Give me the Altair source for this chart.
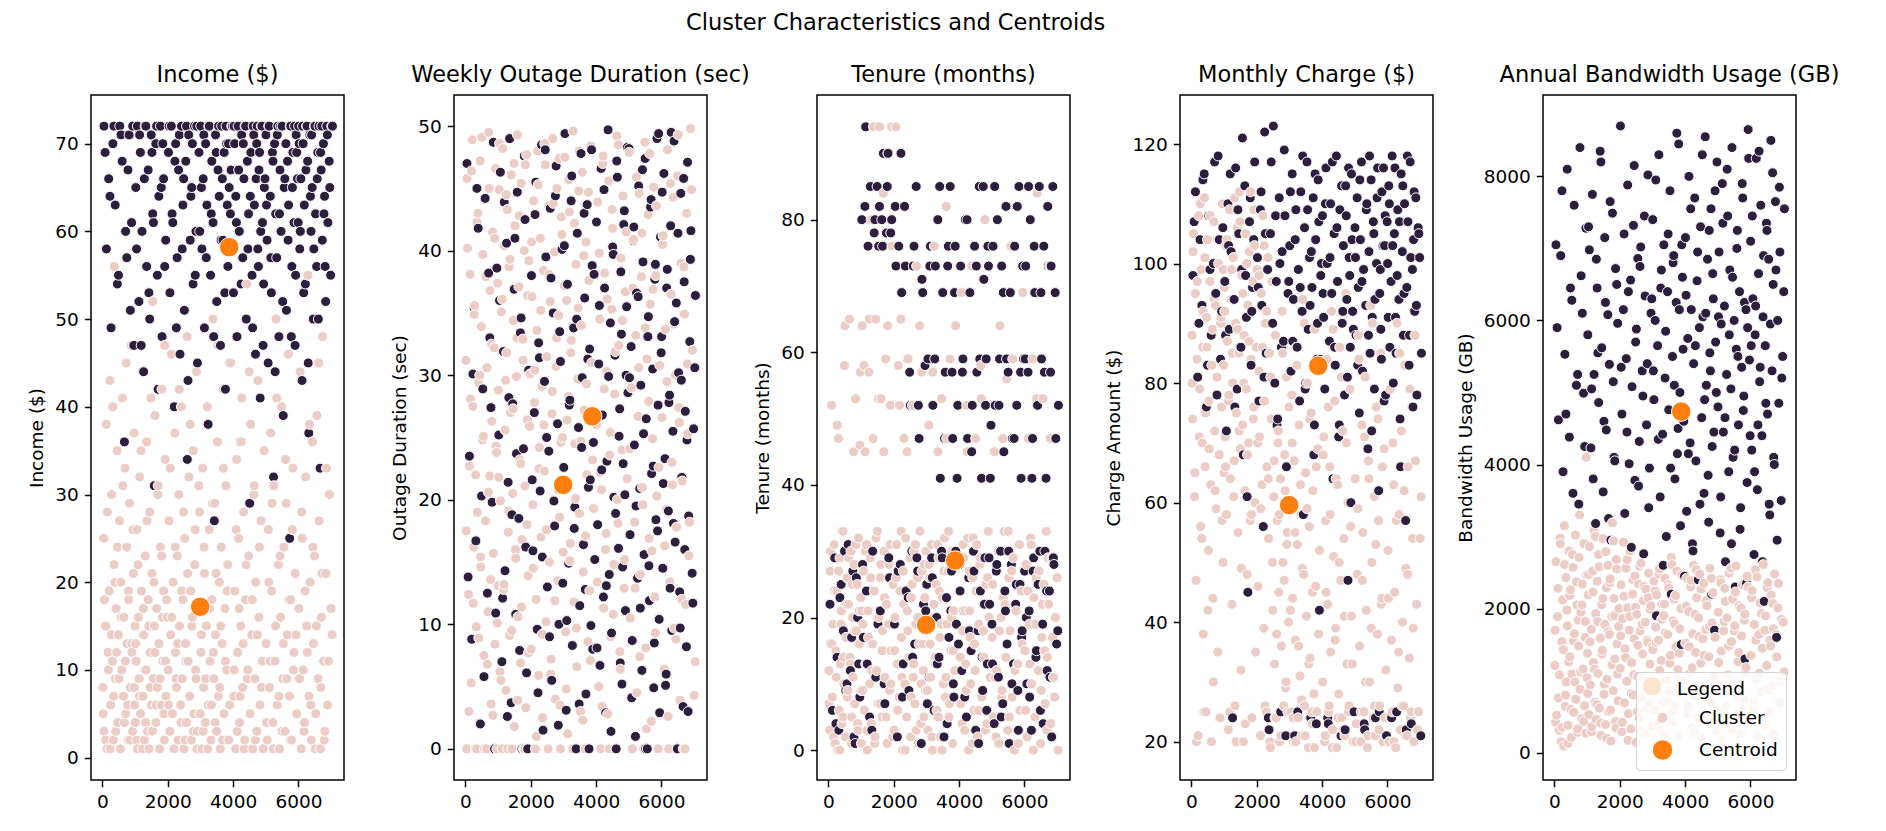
import altair as alt
import pandas as pd

# ---------------- data ----------------
# light cluster ("Cluster" in legend)
light_x = [12, 37, 48, 95, 118, 140, 171, 205, 226, 251, 280, 303, 330, 352, 361, 398, 415, 447, 470, 488, 519, 533, 566, 590, 611, 642, 655, 690, 712, 738, 751, 783, 806, 829, 852, 880, 903, 921, 948, 962, 985, 997,
           1008, 1031, 1055, 1072, 1098, 1124, 1139, 1166, 1190, 1213, 1240, 1262, 1281, 1309, 1334, 1352, 1376, 1401, 1425, 1447, 1468, 1495, 1517, 1540, 1563, 1589, 1610, 1636, 1658, 1681, 1705, 1727, 1752, 1774, 1798, 1821, 1846, 1870, 1893, 1917, 1944, 1978,
           2011, 2037, 2063, 2084, 2110, 2139, 2161, 2188, 2214, 2236, 2263, 2290, 2311, 2339, 2362, 2390, 2415, 2441, 2466, 2492, 2518, 2544, 2570, 2593, 2621, 2647, 2672, 2698, 2723, 2751, 2776, 2800, 2827, 2853, 2880, 2906, 2933, 2968,
           3014, 3042, 3069, 3097, 3126, 3150, 3181, 3209, 3240, 3266, 3295, 3322, 3350, 3381, 3409, 3437, 3463, 3492, 3521, 3549, 3578, 3606, 3634, 3663, 3690, 3719, 3748, 3777, 3805, 3836, 3868, 3921,
           4018, 4049, 4077, 4108, 4139, 4170, 4199, 4231, 4262, 4290, 4321, 4353, 4384, 4416, 4447, 4475, 4506, 4538, 4569, 4601, 4633, 4664, 4695, 4727, 4758, 4790, 4822, 4855, 4893, 4950,
           5012, 5045, 5078, 5110, 5146, 5180, 5214, 5247, 5283, 5316, 5350, 5385, 5418, 5452, 5487, 5520, 5556, 5590, 5624, 5657, 5690, 5725, 5760, 5793, 5828, 5862, 5900, 5948,
           6015, 6049, 6083, 6118, 6150, 6186, 6220, 6255, 6290, 6323, 6358, 6392, 6427, 6461, 6496, 6530, 6565, 6600, 6634, 6668, 6703, 6738, 6772, 6806, 6841, 6890, 6950, 7030,
           22, 63, 105, 152, 181, 239, 268, 312, 341, 380, 407, 436, 462, 503, 548, 577, 625, 668, 701, 725, 770, 797, 841, 893, 935, 973,
           1017, 1044, 1086, 1131, 1178, 1227, 1250, 1294, 1321, 1366, 1413, 1458, 1482, 1528, 1575, 1601, 1647, 1693, 1716, 1763, 1810, 1835, 1882, 1906, 1930, 1962,
           2025, 2074, 2122, 2175, 2226, 2251, 2302, 2350, 2401, 2428, 2479, 2530, 2556, 2607, 2660, 2685, 2736, 2788, 2839, 2866, 2893, 2920, 2950, 2990,
           3028, 3083, 3111, 3165, 3195, 3224, 3280, 3336, 3366, 3395, 3450, 3478, 3535, 3592, 3620, 3677, 3705, 3762, 3820, 3893,
           4033, 4093, 4124, 4185, 4214, 4246, 4306, 4337, 4400, 4431, 4490, 4522, 4585, 4648, 4680, 4742, 4806, 4870, 4920,
           5028, 5094, 5128, 5196, 5231, 5299, 5333, 5402, 5435, 5503, 5538, 5607, 5641, 5708, 5742, 5811, 5845, 5925,
           6032, 6100, 6167, 6203, 6272, 6340, 6375, 6444, 6512, 6548, 6617, 6686, 6720, 6789, 6858, 6920, 7000]
light_income = [8, 25, 3, 15, 38, 1, 12, 19, 43, 6, 30, 11, 2, 22, 56, 9, 17, 35, 4, 14, 27, 1, 20, 10, 41, 7, 16, 33, 5, 24, 13, 2, 18, 29, 8, 47, 12, 3, 21, 37, 6, 15,
                4, 11, 26, 1, 16, 9, 32, 5, 19, 44, 7, 14, 2, 23, 10, 36, 3, 18, 1, 28, 12, 6, 21, 52, 9, 15, 39, 4, 17, 8, 31, 13, 1, 24, 6, 42, 11, 19, 2, 34, 7, 16,
                10, 27, 3, 14, 46, 5, 20, 1, 37, 12, 8, 23, 2, 30, 15, 6, 40, 9, 18, 1, 25, 13, 4, 48, 11, 32, 7, 19, 2, 16, 35, 5, 22, 10, 44, 3, 17, 28,
                12, 1, 33, 8, 21, 4, 15, 40, 6, 26, 11, 2, 18, 50, 9, 29, 14, 3, 36, 7, 20, 1, 24, 13, 42, 5, 17, 31, 10, 22, 2, 45,
                7, 19, 1, 34, 12, 25, 4, 15, 41, 8, 28, 2, 18, 54, 10, 23, 5, 38, 14, 1, 30, 9, 20, 3, 43, 16, 6, 27, 11, 35,
                13, 2, 26, 8, 37, 19, 4, 31, 11, 50, 6, 22, 1, 16, 40, 9, 24, 3, 29, 14, 46, 7, 18, 2, 33, 12, 21, 5,
                17, 44, 1, 25, 10, 4, 32, 15, 55, 7, 20, 2, 36, 13, 23, 5, 39, 9, 27, 1, 16, 48, 11, 3, 21, 6, 30, 14,
                5, 18, 2, 28, 10, 1, 14, 40, 7, 20, 3, 12, 24, 9, 1, 16, 31, 4, 11, 45, 6, 19, 2, 13, 26, 8,
                13, 2, 22, 7, 35, 1, 17, 10, 4, 27, 15, 8, 41, 3, 20, 12, 6, 30, 1, 9, 23, 16, 5, 47, 11, 18,
                6, 33, 16, 1, 24, 9, 13, 42, 4, 19, 28, 2, 11, 21, 7, 38, 15, 3, 26, 9, 1, 17, 31, 5,
                14, 3, 24, 9, 38, 1, 17, 6, 29, 12, 4, 21, 47, 8, 15, 2, 33, 11, 19, 6,
                10, 26, 3, 17, 7, 36, 13, 1, 22, 9, 44, 5, 18, 31, 2, 14, 24, 8, 1,
                4, 20, 11, 29, 1, 15, 41, 7, 23, 3, 13, 34, 9, 18, 2, 26, 10, 14,
                9, 28, 3, 19, 12, 38, 6, 24, 1, 15, 45, 8, 21, 2, 33, 11, 17]
light_outage = [31.2, 0, 45.8, 12.4, 22.7, 38.1, 5.3, 48.9, 27.5, 16.2, 35.6, 0, 9.8, 42.3, 19.0, 29.4, 2.1, 47.2, 14.6, 33.9, 24.8, 39.7, 7.5, 44.1, 18.3, 0, 30.6, 11.0, 49.5, 21.9, 36.8, 3.6, 26.3, 41.5, 15.7, 32.2, 8.4, 46.6, 23.8, 0, 37.4, 13.1,
                28.8, 44.9, 6.2, 19.9, 35.1, 0, 48.2, 12.8, 40.4, 25.6, 4.7, 31.8, 43.3, 17.4, 38.7, 9.1, 27.0, 46.1, 0, 20.5, 34.4, 1.8, 42.0, 15.3, 29.9, 49.3, 10.6, 37.1, 23.2, 6.9, 45.4, 16.8, 32.9, 0, 40.0, 21.1, 3.3, 47.7, 26.4, 13.9, 39.2, 30.1,
                8.0, 36.3, 19.6, 44.0, 27.8, 0, 12.0, 33.6, 48.0, 5.9, 24.2, 41.0, 17.0, 29.1, 2.5, 38.4, 22.3, 46.9, 10.2, 31.5, 0, 43.6, 15.0, 35.9, 7.2, 26.9, 49.0, 20.0, 39.9, 4.0, 30.7, 45.0, 13.5, 34.8, 18.6, 0, 42.7, 25.0,
                21.4, 47.5, 9.4, 36.0, 1.2, 28.3, 43.1, 16.5, 32.8, 0, 49.6, 11.8, 24.5, 38.9, 6.6, 29.7, 44.8, 18.9, 3.0, 34.0, 46.3, 14.2, 27.2, 0, 40.7, 22.0, 8.6, 37.6, 12.7, 48.4, 31.0, 19.3,
                26.0, 43.9, 5.0, 34.5, 0, 20.8, 47.0, 11.3, 38.2, 16.0, 30.3, 2.8, 45.6, 23.6, 9.0, 35.3, 41.8, 14.8, 28.5, 0, 49.2, 18.1, 32.4, 7.8, 39.4, 24.0, 44.4, 12.9, 36.7, 21.7,
                47.9, 10.5, 29.0, 0, 40.9, 18.2, 33.2, 4.5, 26.7, 44.6, 14.0, 37.9, 21.0, 0, 48.7, 8.1, 31.3, 42.9, 16.9, 35.7, 2.2, 24.9, 45.1, 12.2, 38.0, 20.3, 0, 30.8,
                26.6, 41.2, 6.4, 33.7, 19.2, 48.1, 0, 13.4, 36.5, 23.0, 44.3, 9.7, 30.0, 17.8, 46.0, 27.4, 3.9, 39.0, 21.5, 0, 34.9, 11.6, 43.0, 25.3, 15.5, 49.8, 32.0, 7.0,
                17.5, 40.2, 3.0, 28.1, 46.4, 11.7, 34.9, 22.0, 0, 43.0, 8.9, 30.0, 15.4, 49.1, 25.1, 0, 37.9, 6.8, 20.6, 45.0, 13.6, 32.5, 2.7, 41.0, 24.3, 10.1,
                21.8, 48.6, 5.5, 36.1, 13.2, 29.6, 44.5, 0, 19.1, 39.3, 9.5, 27.3, 47.0, 16.0, 33.0, 3.9, 42.8, 22.9, 11.4, 31.2, 0, 46.9, 18.0, 36.4, 7.7, 25.9,
                40.7, 14.5, 30.4, 1.0, 45.3, 22.5, 35.2, 9.2, 26.0, 48.6, 17.6, 0, 38.1, 6.0, 28.7, 43.8, 11.9, 33.0, 20.8, 47.4, 3.5, 24.6, 41.3, 15.8,
                37.2, 4.8, 26.4, 45.7, 15.1, 31.8, 0, 42.2, 20.1, 9.7, 35.4, 48.0, 24.7, 2.3, 39.6, 17.1, 29.3, 44.7, 7.1, 23.2,
                13.4, 39.8, 22.2, 3.4, 47.6, 28.9, 17.3, 36.1, 0, 25.4, 43.3, 10.8, 31.9, 20.0, 48.5, 6.4, 34.4, 15.2, 41.5,
                24.1, 0, 37.0, 12.9, 45.9, 30.6, 7.4, 41.4, 19.6, 33.8, 1.6, 27.9, 47.8, 15.9, 36.9, 9.3, 43.6, 22.6,
                40.5, 16.3, 29.5, 2.6, 45.4, 21.2, 34.1, 8.8, 49.3, 26.2, 12.0, 38.7, 0, 30.9, 18.2, 44.9, 4.3]
light_tenure = [12, 3, 27, 52, 8, 19, 31, 1, 15, 24, 0, 47, 6, 29, 13, 21, 4, 33, 10, 58, 2, 17, 26, 9, 22, 65, 14, 30, 5, 20, 11, 28, 7, 53, 18, 25, 3, 32, 16, 46, 23, 9,
                1, 64, 19, 27, 6, 45, 13, 31, 0, 21, 57, 10, 29, 4, 80, 16, 94, 24, 2, 65, 12, 33, 7, 20, 94, 26, 53, 5, 18, 84, 30, 11, 59, 22, 1, 90, 28, 9, 52, 15, 76, 25,
                3, 20, 94, 31, 13, 58, 8, 24, 65, 17, 0, 27, 47, 10, 32, 5, 21, 59, 14, 29, 2, 23, 52, 11, 30, 7, 19, 73, 26, 1, 16, 33, 4, 57, 22, 12, 28, 9,
                18, 3, 49, 26, 11, 31, 0, 20, 76, 14, 25, 6, 45, 29, 17, 2, 53, 23, 10, 32, 8, 82, 19, 27, 5, 59, 15, 30, 1, 21, 12, 41,
                24, 7, 69, 18, 29, 3, 13, 52, 32, 0, 21, 10, 73, 26, 6, 16, 47, 31, 2, 19, 28, 58, 8, 22, 14, 80, 25, 4, 33, 11,
                17, 5, 45, 27, 12, 30, 1, 64, 20, 9, 23, 33, 14, 56, 3, 26, 18, 76, 8, 29, 0, 21, 52, 13, 31, 6, 24, 69,
                15, 28, 2, 47, 19, 32, 10, 59, 23, 5, 26, 84, 12, 30, 1, 17, 53, 25, 7, 33, 14, 22, 73, 4, 29, 11, 20, 0,
                7, 30, 16, 2, 24, 11, 49, 27, 0, 19, 33, 5, 14, 64, 22, 8, 29, 13, 1, 25, 45, 18, 31, 4, 21, 57,
                21, 9, 58, 30, 3, 17, 65, 26, 12, 47, 1, 32, 20, 53, 7, 28, 15, 45, 23, 5, 64, 19, 31, 10, 94, 2,
                15, 26, 6, 52, 33, 11, 22, 0, 45, 18, 29, 8, 25, 13, 31, 3, 20, 64, 10, 27, 16, 5, 23, 30,
                9, 28, 16, 2, 57, 22, 13, 31, 5, 24, 19, 0, 27, 11, 47, 33, 7, 20, 15, 64,
                14, 4, 31, 21, 9, 45, 27, 17, 1, 32, 12, 24, 6, 29, 53, 18, 3, 26, 20,
                25, 11, 2, 30, 18, 8, 47, 22, 14, 33, 5, 27, 59, 12, 21, 1, 31, 16,
                6, 24, 13, 31, 0, 19, 53, 27, 9, 22, 15, 3, 29, 47, 17, 8, 26]
light_charge = [88, 74, 102, 61, 95, 47, 84, 21, 108, 79, 56, 99, 70, 92, 38, 111, 66, 25, 86, 104, 52, 77, 97, 63, 20, 89, 44, 107, 72, 93, 59, 81, 35, 100, 68, 24, 91, 76, 110, 50, 83, 65,
                96, 71, 103, 58, 87, 22, 78, 109, 64, 94, 43, 80, 101, 67, 26, 90, 75, 106, 55, 85, 112, 69, 32, 98, 73, 20, 88, 62, 105, 79, 48, 93, 70, 102, 57, 84, 24, 96, 74, 109, 60, 86,
                99, 46, 82, 71, 21, 95, 63, 108, 39, 77, 90, 25, 66, 101, 54, 85, 19, 74, 97, 42, 61, 33, 88, 24, 57, 70, 45, 20, 64, 36, 92, 50, 26, 68, 29, 81, 55, 40,
                60, 25, 78, 44, 20, 67, 37, 86, 53, 24, 73, 31, 58, 21, 94, 48, 26, 65, 41, 80, 19, 56, 34, 75, 23, 62, 28, 89, 46, 25, 69, 52,
                30, 71, 20, 57, 84, 43, 25, 66, 35, 92, 22, 51, 77, 39, 19, 63, 28, 86, 47, 24, 72, 54, 21, 95, 33, 60, 26, 79, 41, 20,
                64, 23, 48, 88, 36, 20, 73, 55, 25, 81, 42, 19, 67, 30, 93, 50, 24, 61, 21, 76, 38, 57, 26, 85, 44, 20, 69, 32,
                52, 20, 79, 37, 25, 63, 45, 19, 90, 29, 58, 22, 72, 40, 26, 83, 49, 21, 66, 34, 24, 76, 54, 20, 88, 43, 25, 61,
                80, 105, 65, 20, 97, 71, 110, 54, 86, 25, 101, 75, 91, 42, 69, 108, 83, 30, 94, 62, 78, 104, 24, 90, 57, 99,
                92, 66, 104, 77, 25, 99, 85, 61, 111, 20, 89, 72, 107, 49, 95, 80, 23, 100, 68, 87, 112, 58, 97, 76, 103, 35,
                70, 98, 59, 86, 103, 26, 92, 64, 20, 81, 50, 67, 24, 38, 72, 58, 21, 85, 47, 62, 30, 53, 25, 76,
                42, 70, 24, 55, 20, 83, 36, 63, 27, 49, 90, 21, 59, 33, 74, 25, 45, 19, 66, 38,
                68, 21, 45, 76, 26, 58, 19, 89, 37, 64, 24, 50, 81, 22, 41, 70, 25, 56, 33,
                20, 59, 84, 25, 47, 71, 30, 21, 64, 39, 90, 26, 53, 74, 22, 43, 66, 24,
                44, 24, 70, 20, 57, 35, 85, 26, 62, 21, 48, 79, 25, 39, 67, 22, 54]
light_bandwidth = [1210, 420, 2650, 1890, 760, 310, 2980, 150, 1540, 2120, 90, 3150, 640, 2430, 980, 1760, 380, 2800, 1330, 2260, 210, 1090, 2570, 560, 1650, 3020, 740, 2050, 330, 1480, 2710, 880, 1950, 470, 2340, 1160, 2900, 650, 1820, 270, 2470, 1040,
                   1380, 2190, 530, 2860, 940, 1710, 360, 2520, 1250, 3080, 700, 1930, 460, 2380, 1100, 2750, 620, 1590, 240, 2050, 1420, 2970, 810, 1780, 390, 2290, 1020, 2600, 570, 1640, 2410, 160, 1890, 3190, 860, 2140, 1300, 430, 2680, 1510, 720, 2000,
                   1170, 2330, 290, 1860, 2920, 690, 1440, 2560, 990, 2010, 540, 1700, 2800, 330, 1250, 2200, 800, 1580, 2450, 140, 1920, 1060, 2340, 480, 1690, 2630, 760, 1370, 2110, 260, 1810, 2270, 620, 1530, 2490, 930, 1990, 370,
                   1430, 2380, 580, 1740, 2190, 880, 1560, 2550, 310, 1280, 2060, 700, 1900, 2420, 1010, 160, 1640, 2290, 850, 1350, 2710, 430, 1830, 2130, 650, 1470, 2520, 1150, 230, 1720, 2000, 990,
                   1520, 2420, 540, 1960, 1100, 2300, 350, 1650, 2600, 790, 1390, 2150, 480, 1870, 2480, 1240, 200, 1580, 2350, 920, 1710, 2040, 410, 1330, 2560, 700, 1800, 2220, 1060, 300,
                   1950, 850, 2400, 1410, 180, 1690, 2280, 640, 1870, 1080, 2490, 390, 1540, 2130, 960, 1760, 2590, 530, 1260, 2040, 270, 1620, 2330, 740, 1920, 1180, 2450, 460,
                   1350, 2250, 610, 1780, 2540, 1030, 220, 1640, 2080, 840, 1450, 2610, 380, 1900, 1210, 2360, 560, 1560, 2190, 930, 1720, 2480, 150, 1330, 2010, 690, 1850, 1120,
                   1700, 520, 2280, 1080, 2900, 350, 1430, 2610, 800, 1980, 130, 1260, 2180, 600, 2750, 1550, 980, 2370, 280, 1840, 3300, 1120, 2050, 430, 1600, 4100,
                   820, 2470, 1540, 290, 2230, 1160, 3000, 670, 1820, 2580, 410, 1370, 2140, 950, 2790, 200, 1680, 2360, 590, 1220, 2940, 1900, 340, 2550, 1090, 1750,
                   1620, 420, 2170, 1320, 2680, 170, 1890, 820, 2400, 1080, 2020, 560, 1490, 2590, 300, 1780, 2310, 900, 1560, 2150, 680, 1230, 2040, 1470,
                   890, 2240, 1530, 400, 2480, 1140, 1850, 260, 2060, 1660, 720, 2330, 1240, 2610, 560, 1790, 2180, 1020, 1380, 2470,
                   2030, 640, 1470, 2390, 1180, 280, 1920, 2540, 860, 1610, 2270, 470, 1350, 2110, 730, 1750, 2420, 1010, 1600,
                   1250, 2360, 560, 1820, 2100, 920, 1480, 2560, 310, 1690, 2230, 780, 1390, 2010, 600, 1840, 1120, 2300,
                   2150, 720, 1560, 2440, 1100, 1930, 440, 1700, 2290, 870, 1480, 2070, 250, 1640, 2350, 990, 1810]

# dark cluster
dark_x = [45, 120, 190, 262, 318, 389, 455, 530, 602, 671, 744, 815, 890, 960,
          1020, 1068, 1115, 1160, 1210, 1258, 1305, 1352, 1398, 1446, 1490, 1538, 1585, 1633, 1680, 1726, 1775, 1823, 1870, 1935,
          2020, 2065, 2108, 2152, 2197, 2240, 2285, 2330, 2374, 2418, 2462, 2507, 2551, 2596, 2640, 2685, 2730, 2774, 2818, 2862, 2907, 2955,
          3008, 3045, 3083, 3121, 3158, 3196, 3234, 3272, 3310, 3347, 3385, 3423, 3461, 3498, 3536, 3574, 3612, 3650, 3688, 3726, 3764, 3802, 3840, 3878, 3916, 3958,
          4010, 4046, 4081, 4117, 4152, 4188, 4223, 4259, 4294, 4330, 4365, 4401, 4436, 4472, 4507, 4543, 4578, 4614, 4649, 4685, 4720, 4756, 4791, 4827, 4862, 4898, 4933, 4975,
          5005, 5038, 5071, 5104, 5137, 5170, 5203, 5236, 5269, 5302, 5335, 5368, 5401, 5434, 5467, 5500, 5533, 5566, 5599, 5632, 5665, 5698, 5731, 5764, 5797, 5830, 5863, 5896, 5929, 5970,
          6005, 6040, 6074, 6109, 6143, 6178, 6212, 6247, 6281, 6316, 6350, 6385, 6419, 6454, 6488, 6523, 6557, 6592, 6626, 6661, 6695, 6730, 6764, 6799, 6833, 6868, 6902, 6940, 6985, 7040,
          80, 228, 350, 490, 566, 708, 780, 852, 925,
          1043, 1137, 1185, 1282, 1328, 1421, 1514, 1560, 1657, 1703, 1799, 1846, 1905,
          2042, 2130, 2219, 2262, 2352, 2440, 2485, 2574, 2618, 2707, 2752, 2840, 2885, 2978,
          3027, 3102, 3177, 3253, 3329, 3404, 3479, 3555, 3631, 3669, 3745, 3783, 3821, 3859, 3897, 3937, 3980,
          4028, 4099, 4170, 4241, 4312, 4383, 4454, 4525, 4596, 4632, 4703, 4738, 4774, 4809, 4845, 4880, 4916, 4955,
          5021, 5088, 5154, 5220, 5286, 5352, 5418, 5451, 5517, 5583, 5616, 5682, 5748, 5781, 5814, 5880, 5913, 5946, 5990,
          6022, 6057, 6126, 6160, 6229, 6264, 6298, 6367, 6402, 6471, 6505, 6574, 6609, 6678, 6713, 6781, 6816, 6885, 6960, 7020]
dark_income = [72, 58, 66, 49, 70, 63, 54, 72, 68, 36, 57, 71, 61, 47,
               65, 72, 52, 69, 60, 44, 72, 56, 67, 50, 71, 62, 31, 70, 55, 64, 72, 48, 66, 59,
               69, 53, 72, 61, 40, 70, 57, 67, 46, 72, 63, 51, 68, 34, 71, 59, 65, 54, 72, 60, 45, 69,
               72, 58, 66, 49, 70, 63, 38, 72, 55, 68, 61, 27, 71, 52, 67, 64, 47, 72, 59, 69, 42, 70, 56, 65, 62, 72,
               53, 70, 64, 48, 72, 60, 36, 71, 57, 66, 72, 50, 68, 62, 29, 69, 55, 72, 63, 46, 70, 58, 67, 41, 72, 61, 54, 66,
               71, 59, 45, 72, 64, 53, 69, 32, 70, 62, 57, 72, 48, 67, 60, 72, 39, 65, 70, 51, 68, 63, 25, 72, 56, 69, 61, 47, 71, 66,
               72, 58, 66, 43, 70, 63, 54, 72, 68, 37, 71, 60, 65, 50, 72, 62, 56, 69, 72, 33, 67, 59, 70, 64, 52, 72, 61, 68, 55, 72,
               69, 64, 72, 55, 71, 60, 67, 51, 72,
               58, 71, 47, 66, 72, 53, 69, 61, 72, 42, 65, 70, 56,
               72, 62, 68, 49, 71, 58, 66, 72, 43, 64, 70, 55, 72, 60,
               65, 71, 57, 72, 62, 48, 69, 72, 59, 66, 53, 72, 63, 70, 45, 67, 72,
               72, 61, 67, 54, 70, 72, 58, 64, 49, 71, 66, 72, 56, 69, 60, 72, 47, 65,
               63, 72, 57, 68, 44, 71, 62, 72, 52, 66, 70, 59, 72, 48, 65, 72, 55, 69, 61,
               70, 60, 72, 53, 67, 72, 45, 64, 71, 58, 72, 66, 50, 69, 72, 62, 56, 71, 65, 72]
dark_outage = [47.0, 23.5, 8.8, 35.4, 16.7, 41.8, 2.0, 28.9, 44.2, 12.5, 33.0, 19.8, 0, 38.6,
               25.2, 46.3, 7.0, 31.9, 14.3, 40.6, 21.4, 49.0, 3.7, 27.7, 36.9, 10.8, 44.7, 18.5, 33.4, 0, 24.1, 42.5, 6.1, 30.4,
               38.0, 15.9, 27.0, 45.5, 9.6, 32.6, 20.7, 48.5, 1.5, 29.5, 39.5, 13.0, 23.9, 43.4, 5.5, 35.0, 17.9, 46.8, 26.1, 10.0, 31.1, 40.1,
               22.6, 49.4, 3.1, 37.3, 14.9, 28.0, 44.0, 8.3, 33.8, 19.4, 0, 41.4, 25.8, 11.5, 47.8, 29.8, 16.4, 36.2, 4.4, 43.7, 21.0, 32.1, 9.9, 38.8, 24.6, 15.2,
               42.3, 18.0, 30.9, 6.7, 46.6, 26.8, 12.2, 37.0, 2.9, 23.1, 49.7, 14.0, 34.2, 9.3, 40.3, 20.2, 31.6, 0, 45.9, 16.1, 27.3, 38.3, 5.2, 22.9, 43.2, 11.1, 35.5, 28.6,
               48.2, 17.2, 32.3, 8.7, 40.8, 24.4, 1.0, 36.6, 13.7, 45.2, 20.9, 29.2, 6.3, 39.1, 15.6, 47.4, 26.5, 0, 34.7, 11.9, 43.5, 22.1, 30.5, 4.9, 37.7, 18.4, 49.0, 27.6, 10.4, 41.1,
               33.1, 14.5, 46.2, 23.3, 6.0, 38.5, 19.1, 28.4, 42.0, 9.5, 25.5, 48.8, 16.6, 35.8, 0, 30.2, 12.6, 44.6, 21.8, 3.4, 37.5, 27.1, 8.2, 47.1, 18.7, 32.7, 41.6, 14.1, 25.7, 36.4,
               13.8, 30.1, 45.0, 20.3, 5.8, 38.2, 27.4, 48.7, 10.9,
               36.0, 12.1, 43.9, 2.6, 28.2, 18.8, 41.0, 23.7, 7.9, 34.6, 47.6, 16.2, 0,
               21.6, 42.9, 4.5, 31.4, 15.4, 48.1, 25.0, 9.0, 37.8, 19.9, 44.4, 1.9, 33.5, 13.3,
               40.4, 10.3, 27.6, 46.0, 17.7, 34.5, 3.6, 24.2, 43.0, 12.8, 31.3, 0, 21.6, 48.1, 8.0, 38.1, 26.3,
               8.1, 35.6, 22.4, 44.9, 13.1, 29.9, 1.4, 39.7, 18.9, 47.2, 25.1, 6.9, 33.3, 14.6, 42.1, 20.4, 30.0, 48.3,
               29.8, 4.1, 41.9, 19.5, 36.3, 11.3, 46.5, 25.3, 0, 33.1, 14.7, 44.1, 22.7, 8.5, 38.9, 17.5, 49.4, 2.9, 31.8,
               44.7, 21.3, 5.1, 37.0, 27.8, 12.9, 49.5, 18.1, 34.3, 0, 41.4, 9.7, 29.6, 45.8, 16.0, 24.8, 3.0, 39.3, 11.7, 30.6]
dark_tenure = [22, 6, 29, 14, 3, 25, 18, 9, 31, 12, 27, 1, 20, 8,
               80, 17, 82, 24, 76, 5, 80, 30, 78, 11, 85, 76, 21, 80, 90, 7, 78, 90, 26, 80,
               19, 73, 2, 76, 28, 69, 13, 82, 24, 59, 9, 52, 30, 73, 16, 85, 27, 47, 4, 71, 22, 58,
               25, 59, 11, 76, 29, 52, 6, 73, 20, 80, 14, 41, 30, 69, 2, 57, 23, 73, 17, 85, 27, 47, 8, 76, 19, 52,
               28, 73, 12, 59, 21, 80, 5, 47, 26, 69, 15, 52, 30, 76, 3, 57, 18, 85, 24, 41, 9, 71, 29, 59, 13, 73, 22, 49,
               19, 76, 4, 52, 27, 80, 11, 59, 30, 73, 7, 45, 24, 82, 16, 57, 1, 69, 28, 47, 13, 76, 22, 52, 9, 85, 25, 41, 18, 59,
               27, 73, 10, 57, 21, 80, 3, 47, 29, 69, 14, 52, 25, 85, 6, 59, 19, 76, 30, 41, 12, 73, 24, 57, 2, 85, 28, 69, 16, 52,
               16, 4, 23, 30, 10, 17, 2, 26, 13,
               28, 94, 13, 85, 3, 80, 19, 82, 76, 10, 85, 29, 78,
               82, 27, 90, 8, 73, 23, 57, 14, 76, 29, 52, 1, 69, 21,
               7, 73, 26, 59, 13, 85, 29, 47, 4, 76, 21, 57, 10, 69, 30, 41, 16,
               24, 57, 8, 80, 18, 45, 27, 73, 1, 59, 14, 85, 22, 52, 6, 76, 29, 41,
               13, 85, 28, 52, 5, 69, 21, 59, 30, 76, 10, 47, 25, 82, 3, 57, 17, 73, 27,
               59, 20, 85, 8, 41, 27, 76, 15, 52, 30, 69, 4, 57, 24, 82, 11, 73, 29, 47, 18]
dark_charge = [98, 112, 81, 104, 93, 115, 76, 108, 88, 100, 95, 118, 84, 106,
               97, 72, 110, 89, 102, 24, 94, 116, 79, 105, 86, 99, 68, 113, 91, 45, 107, 83, 96, 117,
               101, 77, 109, 93, 56, 122, 85, 99, 22, 105, 90, 123, 80, 97, 74, 111, 25, 102, 87, 108, 66, 95,
               103, 82, 115, 94, 21, 109, 86, 99, 77, 112, 92, 58, 106, 80, 117, 89, 101, 24, 96, 111, 73, 104, 84, 114, 42, 98,
               108, 91, 79, 116, 100, 23, 87, 110, 95, 64, 105, 83, 118, 97, 71, 109, 21, 90, 103, 78, 113, 94, 47, 101, 86, 115, 92, 25,
               106, 88, 111, 96, 75, 104, 117, 82, 99, 22, 93, 110, 69, 102, 85, 114, 91, 107, 79, 24, 100, 116, 62, 95, 89, 112, 103, 77, 108, 21,
               100, 113, 86, 97, 118, 80, 105, 91, 25, 109, 94, 74, 115, 102, 88, 110, 57, 96, 107, 83, 117, 23, 99, 104, 92, 111, 78, 106, 101, 85,
               107, 90, 114, 83, 99, 117, 78, 104, 92,
               88, 103, 115, 94, 76, 109, 86, 121, 98, 61, 111, 92, 104,
               96, 112, 81, 105, 24, 117, 90, 108, 73, 100, 86, 119, 21, 97,
               112, 87, 104, 25, 96, 118, 79, 109, 93, 102, 68, 115, 23, 90, 107, 84, 100,
               95, 110, 24, 101, 117, 86, 106, 73, 113, 92, 22, 108, 81, 116, 98, 60, 104, 89,
               101, 83, 114, 97, 23, 109, 88, 118, 72, 105, 94, 111, 25, 99, 84, 116, 103, 78, 107,
               91, 110, 24, 103, 116, 85, 98, 107, 66, 113, 95, 22, 118, 88, 101, 76, 112, 93, 105, 21]
dark_bandwidth = [7050, 4620, 6900, 3900, 5530, 8100, 4380, 6280, 7600, 5100, 3450, 6620, 4990, 7280,
                  5800, 6980, 4230, 7750, 5250, 3180, 6450, 4860, 8350, 5620, 3620, 7150, 4480, 6080, 5390, 2950, 7490, 4100, 6720, 5960,
                  8700, 4700, 6150, 3320, 5470, 7880, 4010, 6560, 5080, 7320, 3780, 5880, 6860, 4320, 7020, 5300, 2760, 6340, 4550, 8020, 3950, 6100,
                  7400, 4900, 6000, 1900, 5650, 8300, 3550, 6700, 4420, 7050, 5200, 3000, 6400, 4760, 7800, 2200, 5500, 6900, 3800, 6250, 4150, 8450, 5000, 1500, 6600, 4600,
                  7150, 3350, 5750, 8000, 4300, 6150, 2900, 5400, 7700, 4050, 6550, 2400, 5900, 7300, 4650, 6050, 3600, 8550, 5100, 6850, 3200, 5550, 7550, 4250, 6300, 1700, 5700, 8200,
                  4800, 6950, 3050, 5950, 7900, 4450, 6200, 2650, 5250, 7450, 3900, 6700, 5050, 8400, 4100, 6000, 2300, 5600, 7250, 4550, 6400, 3400, 5350, 7700, 4950, 1300, 6150, 3750, 8650, 5450,
                  7100, 4200, 6300, 2750, 5800, 8250, 3650, 6650, 5150, 7600, 4400, 6050, 2100, 5650, 7350, 4700, 6850, 3300, 8500, 5300, 6500, 4000, 7650, 1600, 6000, 4850, 6950, 3500, 5500, 7550,
                  5900, 7800, 4700, 6450, 3600, 5250, 8400, 6100, 4250,
                  7300, 5050, 3800, 6850, 5550, 8200, 4600, 6250, 3250, 7650, 5150, 4050, 6500,
                  5350, 7200, 4450, 6400, 2850, 8150, 5700, 3700, 6750, 4950, 7450, 5400, 3400, 6300,
                  5300, 7950, 4350, 6450, 2600, 5850, 7200, 3950, 6800, 5100, 8600, 4500, 6150, 3150, 7050, 5600, 2450,
                  6350, 4150, 7550, 2800, 5650, 6950, 3450, 8300, 4900, 6100, 3850, 7250, 5300, 2200, 6650, 4450, 7800, 5000,
                  6050, 3550, 7350, 4650, 8100, 5800, 2900, 6600, 4200, 7000, 5500, 3100, 7900, 4750, 6250, 2350, 5900, 8250, 4400,
                  5650, 7450, 3900, 6200, 4550, 8350, 5350, 2650, 6900, 4850, 7250, 3450, 5950, 8050, 4100, 6700, 2950, 7850, 5200, 6400]

# centroids (light cluster, dark cluster)
centroid_x = [2990, 3880]
centroid_income = [17.2, 58.2]
centroid_outage = [21.2, 26.7]
centroid_tenure = [18.9, 28.6]
centroid_charge = [59.6, 82.9]
centroid_bandwidth = [920, 4735]

# ---------------- build table ----------------
light = pd.DataFrame({"x": light_x, "income": light_income, "outage": light_outage,
                      "tenure": light_tenure, "charge": light_charge, "bandwidth": light_bandwidth})
light["grp"] = "Cluster"
dark = pd.DataFrame({"x": dark_x, "income": dark_income, "outage": dark_outage,
                     "tenure": dark_tenure, "charge": dark_charge, "bandwidth": dark_bandwidth})
dark["grp"] = "Cluster1"
pts = pd.concat([light, dark], ignore_index=True).sort_values("x", kind="stable")
cent = pd.DataFrame({"x": centroid_x, "income": centroid_income, "outage": centroid_outage,
                     "tenure": centroid_tenure, "charge": centroid_charge, "bandwidth": centroid_bandwidth})
cent["grp"] = "Centroid"
df = pd.concat([pts, cent], ignore_index=True)

LIGHT = "#ebcdc6"
DARK = "#2d1e3e"
ORANGE = "#ff7f0e"
FONT = "DejaVu Sans"
GRP_DOMAIN = ["Cluster", "Cluster1", "Centroid"]

PANELS = [
    ("income", "Income ($)", "Income ($)", [-2.55, 75.55], [0, 10, 20, 30, 40, 50, 60, 70]),
    ("outage", "Weekly Outage Duration (sec)", "Outage Duration (sec)", [-2.5, 52.5], [0, 10, 20, 30, 40, 50]),
    ("tenure", "Tenure (months)", "Tenure (months)", [-4.5, 98.8], [0, 20, 40, 60, 80]),
    ("charge", "Monthly Charge ($)", "Charge Amount ($)", [13.6, 128.2], [20, 40, 60, 80, 100, 120]),
    ("bandwidth", "Annual Bandwidth Usage (GB)", "Bandwidth Usage (GB)", [-380, 9130], [0, 2000, 4000, 6000, 8000]),
]


def panel(col, title, ytitle, ydom, yticks, show_legend):
    if show_legend:
        legend = alt.Legend(title="Legend", orient="bottom-right", offset=10,
                            values=["Cluster", "Centroid"], titleAnchor="middle",
                            titleFont=FONT, titleFontSize=18.5, titleFontWeight="normal", titleColor="black",
                            labelFont=FONT, labelFontSize=18.5, labelColor="black",
                            padding=8, fillColor="rgba(255,255,255,0.8)", strokeColor="#d5d5d5",
                            cornerRadius=4, symbolOffset=8, labelOffset=26, rowPadding=10,
                            titlePadding=10, symbolType="circle", symbolStrokeColor="white",
                            symbolStrokeWidth=1, symbolOpacity=1)
    else:
        legend = None
    return alt.Chart(df).mark_circle(opacity=1, stroke="white", strokeWidth=1).encode(
        x=alt.X("x:Q", scale=alt.Scale(domain=[-352, 7394], nice=False, zero=False),
                axis=alt.Axis(values=[0, 2000, 4000, 6000], format="d", title=None)),
        y=alt.Y(f"{col}:Q", scale=alt.Scale(domain=ydom, nice=False, zero=False),
                axis=alt.Axis(values=yticks, format="d", title=ytitle)),
        color=alt.Color("grp:N", scale=alt.Scale(domain=GRP_DOMAIN, range=[LIGHT, DARK, ORANGE]), legend=legend),
        size=alt.Size("grp:N", scale=alt.Scale(type="ordinal", domain=GRP_DOMAIN, range=[100, 100, 380]), legend=legend),
    ).properties(
        width=253, height=685,
        title=alt.TitleParams(title, font=FONT, fontSize=22.5, fontWeight="normal", color="black",
                              anchor="middle", baseline="alphabetic", offset=-9),
    )


charts = [panel(c, t, yt, d, tk, i == 4) for i, (c, t, yt, d, tk) in enumerate(PANELS)]

chart = alt.hconcat(*charts, spacing=110, bounds="flush").resolve_scale(
    color="independent", size="independent"
).resolve_legend(color="independent", size="independent").properties(
    title=alt.TitleParams("Cluster Characteristics and Centroids", font=FONT, fontSize=22.5,
                          fontWeight="normal", color="black", anchor="middle", dx=-38,
                          baseline="alphabetic", offset=10),
    padding={"left": 19, "top": 4, "right": 10, "bottom": 5},
).configure_view(
    stroke="black", strokeWidth=1.5
).configure_axis(
    domain=False, grid=False, labelFont=FONT, labelFontSize=18.5, labelColor="black",
    tickColor="black", tickSize=6.7, tickWidth=1.5, labelPadding=6,
    titleFont=FONT, titleFontSize=18.5, titleFontWeight="normal", titleColor="black", titlePadding=8,
)

chart.save("out.html", embed_options={"renderer": "svg", "actions": False})
